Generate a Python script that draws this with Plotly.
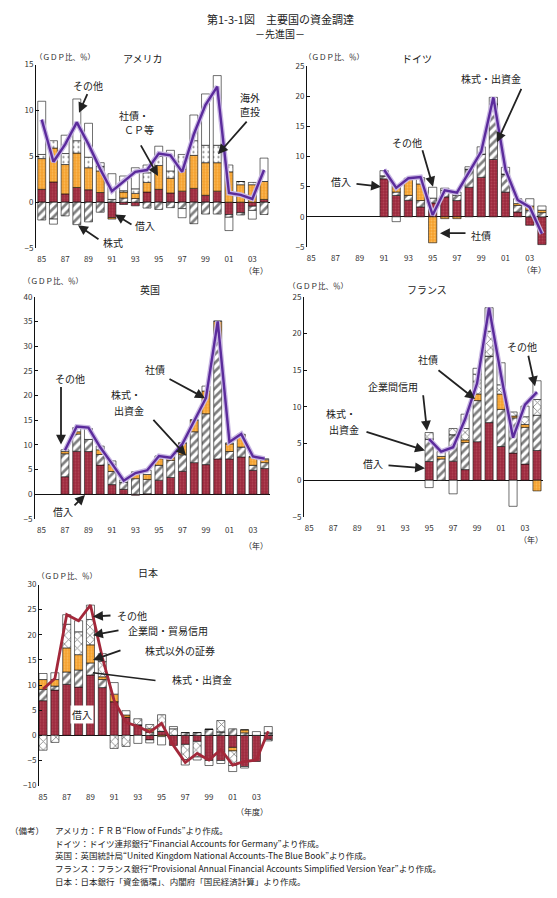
import plotly.graph_objects as go

W, H = 557, 898
FONT = "Noto Sans CJK JP"

years = list(range(1985, 2005))
N = None

'''
DATA (GDP比、%)
'''
# アメリカ
us_loans = [1.4, 2.2, 0.9, 1.6, 1.35, 1.05, -1.7, -0.25, -0.4, 1.1, 1.4, 1.0, 1.2, 1.5, 0.75, 1.2, -1.35, -1.15, -0.45, 0.3]
us_stock = [-1.95, -1.85, -1.5, -2.45, -2.15, -1.1, 0.3, 0.45, 0.4, -0.65, -0.8, -0.6, -0.7, -2.35, -1.3, -1.3, -0.3, -0.25, -0.45, -1.35]
us_bonds = [3.35, 3.7, 3.2, 3.75, 2.4, 2.35, -0.15, 0.65, 0.55, 1.05, 2.6, 1.6, 2.4, 3.6, 3.55, 3.1, 3.3, 1.9, 1.9, 1.95]
us_fdi = [0.45, 0.8, 1.2, 1.35, 1.15, 0.5, 0.0, 0.15, 0.5, 1.05, 1.0, 0.8, 1.6, 1.6, 1.9, 1.9, 0.75, 0.35, 0.25, 0.0]
us_other = [5.8, -0.55, 2.0, 4.55, 3.7, 0.4, 2.8, 1.6, 2.3, 0.85, 1.1, 2.25, -1.0, 2.8, 5.6, 7.6, -1.45, 0.0, -0.95, 2.55]
us_total = [9.0, 4.4, 6.3, 8.7, 6.3, 3.6, 1.2, 2.3, 3.3, 3.5, 5.3, 5.1, 3.3, 7.4, 10.6, 12.6, 1.0, 0.8, 0.35, 3.5]

# ドイツ
de_loans = [N] * 6 + [6.3, 3.55, 2.75, 1.65, 2.3, 3.3, 2.7, 4.9, 6.55, 9.5, 4.1, 0.8, -1.4, -4.6]
de_stock = [N] * 6 + [0.5, 0.55, 0.8, 1.05, 0.8, 1.1, 0.85, 3.0, 3.85, 9.2, 3.0, 1.1, 1.1, 0.7]
de_bonds = [N] * 6 + [0.0, 1.1, 2.75, 2.75, -4.3, -0.3, -0.3, 0.0, 0.0, 0.0, 0.0, 0.3, 0.7, 0.4]
de_other = [N] * 6 + [0.85, -0.8, 0.1, 1.05, 1.8, 0.35, 0.55, 0.4, 1.2, 1.1, 1.1, 0.8, 1.2, 0.7]
de_total = [N] * 6 + [7.8, 4.8, 6.4, 6.6, 0.3, 4.4, 4.0, 7.5, 10.8, 19.8, 7.8, 2.8, 1.6, -2.8]

# 英国
uk_loans = [N] * 2 + [3.55, 8.7, 8.65, 5.9, 1.95, 1.0, -0.2, 0.1, 2.85, 3.4, 4.65, 6.4, 6.0, 7.15, 7.15, 7.55, 4.85, 5.2]
uk_stock = [N] * 2 + [4.65, 3.5, 2.45, 2.15, 2.65, 1.4, 3.15, 2.9, 3.0, 3.45, 3.35, 6.25, 10.3, 23.55, 1.5, 2.0, 1.0, 1.2]
uk_bonds = [N] * 2 + [0.45, 0.45, 0.0, 0.95, 1.4, 0.0, 0.95, 1.0, 1.35, 0.55, 2.3, 2.35, 4.6, 4.3, 1.55, 2.5, 1.7, 0.6]
uk_other = [N] * 2 + [0.35, 0.85, 2.2, 0.75, 0.75, 0.5, 0.45, 0.85, 0.55, 0.35, 0.15, 0.1, 1.0, 0.1, 0.2, 0.1, 0.1, 0.2]
uk_total = [N] * 2 + [8.9, 13.7, 13.5, 9.5, 6.2, 2.75, 4.3, 4.85, 7.75, 7.4, 10.2, 15.0, 19.5, 35.0, 10.6, 12.2, 7.65, 7.2]

# フランス
fr_loans = [N] * 10 + [2.55, 0.0, 2.6, 1.45, 5.25, 7.85, 4.6, 3.7, 2.2, 4.05]
fr_stock = [N] * 10 + [3.05, 2.9, 3.6, 3.7, 5.6, 9.05, 5.05, 4.8, 5.0, 4.8]
fr_bonds = [N] * 10 + [0.0, 0.35, 0.0, 0.35, 0.9, 0.0, 2.1, 0.25, 0.4, -1.45]
fr_trade = [N] * 10 + [0.9, 0.0, 0.85, 1.55, 2.7, 3.4, 1.25, 0.55, 1.05, 2.15]
fr_other = [N] * 10 + [-1.0, 0.65, -1.85, 1.95, 0.8, 3.2, 3.0, -3.55, 1.45, 2.55]
fr_total = [N] * 10 + [5.6, 3.9, 4.5, 8.3, 13.2, 23.5, 14.3, 5.8, 10.3, 12.0]

# 日本（年度）
jp_loans = [6.9, 9.0, 10.15, 9.6, 12.0, 9.5, 6.7, 3.6, 2.1, -0.9, 0.8, -2.0, -1.8, -1.2, -5.0, -5.0, -2.4, -6.2, -5.2, -0.8]
jp_stock = [2.25, 0.8, 2.45, 3.4, 2.4, 1.6, 0.0, 0.0, 0.0, 0.6, 0.0, 0.0, 0.55, 0.55, 1.2, 0.7, 1.3, 0.5, 0.0, 0.5]
jp_secs = [1.95, 1.3, 4.8, 3.05, 3.6, 0.55, 1.5, 0.45, 0.0, 0.7, -0.25, 0.0, 0.0, 0.0, 0.0, 0.0, -0.7, 0.6, 0.0, 0.0]
jp_trade = [-2.95, -1.4, 4.7, 4.55, 5.05, 3.05, -2.6, -2.2, 1.2, 0.85, 3.3, 1.3, -3.0, -3.1, 0.0, 2.25, -2.9, 0.0, 0.0, -0.3]
jp_other = [1.2, 1.35, 1.9, 2.2, 2.85, 1.55, 2.3, 0.85, -1.6, -0.6, -1.65, 0.45, -1.1, -0.6, -1.0, -0.6, -1.2, -0.3, 0.75, 1.25]
jp_total = [9.2, 11.3, 24.0, 22.8, 25.9, 15.5, 6.9, 2.6, 1.75, 0.65, 2.4, -2.0, -5.4, -3.6, -4.9, -2.8, -5.9, -5.2, -4.9, 0.8]

tick_years = list(range(1985, 2004, 2))
tick_text = ["%02d" % (y % 100) for y in tick_years]

'''
STYLES
'''
RED = "#9c2a3e"
ORANGE = "#f5a12f"
PURPLE = "#5b2b9c"

styles = {
    "loans": dict(color=RED, pattern=dict(shape=".", fgcolor="#c4606c", bgcolor=RED, size=3, solidity=0.3)),
    "bonds": dict(color=ORANGE, pattern=dict(shape=".", fgcolor="#ffd58a", bgcolor=ORANGE, size=3, solidity=0.3)),
    "stock": dict(color="white", pattern=dict(shape="/", fgcolor="#000", bgcolor="white", size=6, solidity=0.45)),
    "dots": dict(color="white", pattern=dict(shape=".", fgcolor="#000", bgcolor="white", size=5, solidity=0.15)),
    "cross": dict(color="white", pattern=dict(shape="x", fgcolor="#000", bgcolor="white", size=6, solidity=0.25)),
    "other": dict(color="white"),
}

fig = go.Figure()


def add_bars(n, series, total, line_color=PURPLE, halo=True):
    for values, kind in series:
        fig.add_trace(go.Bar(x=years, y=values, width=0.68, marker=dict(line=dict(color="#111", width=0.6), **styles[kind]),
                             xaxis="x%d" % n, yaxis="y%d" % n, showlegend=False, hoverinfo="skip"))
    if halo:
        fig.add_trace(go.Scatter(x=years, y=total, mode="lines", line=dict(color="#c9b8e3", width=5),
                                 xaxis="x%d" % n, yaxis="y%d" % n, showlegend=False, hoverinfo="skip", connectgaps=False))
    fig.add_trace(go.Scatter(x=years, y=total, mode="lines", line=dict(color=line_color, width=2.4 if halo else 2.8),
                             xaxis="x%d" % n, yaxis="y%d" % n, showlegend=False, hoverinfo="skip", connectgaps=False))


add_bars(1, [(us_loans, "loans"), (us_stock, "stock"), (us_bonds, "bonds"), (us_fdi, "dots"), (us_other, "other")], us_total)
add_bars(2, [(de_loans, "loans"), (de_stock, "stock"), (de_bonds, "bonds"), (de_other, "other")], de_total)
add_bars(3, [(uk_loans, "loans"), (uk_stock, "stock"), (uk_bonds, "bonds"), (uk_other, "other")], uk_total)
add_bars(4, [(fr_loans, "loans"), (fr_stock, "stock"), (fr_bonds, "bonds"), (fr_trade, "cross"), (fr_other, "other")], fr_total)
add_bars(5, [(jp_loans, "loans"), (jp_stock, "stock"), (jp_secs, "bonds"), (jp_trade, "cross"), (jp_other, "other")],
         jp_total, line_color="#a3283a", halo=False)

# panel boxes in pixels: x0, x1, ybottom, ytop, yrange, xrange
panels = {
    1: (36, 270, 245, 59.3, [-5, 15], [1984.51, 2004.51]),
    2: (307, 548, 244, 60.7, [-5, 25], [1984.65, 2004.5]),
    3: (35, 270, 519.3, 294.3, [-5, 40], [1984.45, 2004.45]),
    4: (304, 543, 517.3, 294.3, [-5, 25], [1984.56, 2004.5]),
    5: (39, 273, 789.3, 585.7, [-10, 30], [1984.66, 2004.4]),
}

axes = {}
for n, (x0, x1, yb, yt, yr, xr) in panels.items():
    sfx = "" if n == 1 else str(n)
    axes["xaxis" + sfx] = dict(domain=[x0 / W, x1 / W], range=xr, anchor="y" + sfx, tickvals=tick_years, ticktext=tick_text,
                               showline=False, showgrid=False, zeroline=False, ticks="", ticklabelstandoff=5,
                               tickfont=dict(size=8, color="#333"))
    axes["yaxis" + sfx] = dict(domain=[1 - yb / H, 1 - yt / H], range=yr, anchor="x" + sfx, dtick=5, showline=True,
                               linecolor="#111", linewidth=1, ticks="inside", ticklen=3, tickcolor="#111",
                               zeroline=True, zerolinecolor="#111", zerolinewidth=1, showgrid=False,
                               tickfont=dict(size=8, color="#333"))

annotations = []


def note(text, x, y, size=9, anchor="center", **kw):
    annotations.append(dict(text=text, x=x / W, y=1 - y / H, xref="paper", yref="paper", showarrow=False,
                            xanchor=anchor, yanchor="middle", font=dict(size=size, color="#222", family=FONT), **kw))


def arrow(x0, y0, x1, y1):
    annotations.append(dict(text="", x=x1 / W, y=1 - y1 / H, xref="paper", yref="paper", ax=x0 - x1, ay=y0 - y1,
                            axref="pixel", ayref="pixel", showarrow=True, arrowhead=2, arrowsize=1.1,
                            arrowwidth=1.8, arrowcolor="#222"))


# titles
note("第1-3-1図　主要国の資金調達", 280, 13, size=11)
note("－先進国－", 280, 28, size=10)

# panel headings
for x, y in [(33, 51), (302, 51), (21, 278), (286, 283), (35, 577)]:
    note("（ＧＤＰ比、％）", x, y, size=7.5, anchor="left")
note("アメリカ", 143, 53, size=10)
note("ドイツ", 417, 53, size=10)
note("英国", 150, 287, size=10)
note("フランス", 427, 287, size=10)
note("日本", 148, 574, size=10)
note("（年）", 256, 268, size=8)
note("（年）", 534, 267, size=8)
note("（年）", 256, 546, size=8)
note("（年）", 531, 540, size=8)
note("（年度）", 252, 815, size=8)

# アメリカ labels
note("その他", 88, 80, size=10)
arrow(88, 88, 79, 108)
note("社債・", 134, 111, size=10)
note("ＣＰ等", 139, 125, size=10)
arrow(140, 140, 158, 172)
note("海外", 250, 93, size=10)
note("直投", 250, 107, size=10)
arrow(248, 116, 218, 150)
note("借入", 145, 222, size=10)
arrow(133, 222, 115, 211)
note("株式", 113, 239, size=10)
arrow(100, 237, 78, 222)

# ドイツ labels
note("株式・出資金", 491, 73, size=10)
arrow(522, 83, 497, 138)
note("その他", 407, 138, size=10)
arrow(422, 145, 433, 183)
note("借入", 341, 178, size=10)
arrow(355, 180, 381, 183)
note("社債", 481, 232, size=10)
arrow(467, 230, 440, 230)

# 英国 labels
note("その他", 70, 377, size=10)
arrow(61, 385, 61, 444)
note("社債", 155, 368, size=10)
arrow(168, 377, 205, 397)
note("株式・", 126, 393, size=10)
note("出資金", 129, 410, size=10)
arrow(152, 418, 186, 455)
note("借入", 63, 512, size=10)
arrow(73, 507, 85, 495)

# フランス labels
note("その他", 522, 345, size=10)
arrow(528, 353, 535, 385)
note("社債", 428, 358, size=10)
arrow(437, 368, 475, 398)
note("企業間信用", 393, 385, size=10)
arrow(423, 393, 427, 430)
note("株式・", 341, 413, size=10)
note("出資金", 344, 429, size=10)
arrow(365, 431, 425, 450)
note("借入", 373, 463, size=10)
arrow(387, 465, 425, 468)

# 日本 labels
note("その他", 132, 617, size=10)
arrow(112, 617, 93, 618)
note("企業間・貿易信用", 168, 632, size=10)
arrow(120, 632, 93, 637)
note("株式以外の証券", 180, 652, size=10)
arrow(122, 652, 93, 662)
note("株式・出資金", 202, 682, size=10)
annotations.append(dict(text="", x=93 / W, y=1 - 675 / H, xref="paper", yref="paper", ax=157 - 93, ay=683 - 675,
                        axref="pixel", ayref="pixel", showarrow=True, arrowhead=0, arrowwidth=1.5, arrowcolor="#222"))
note("借入", 82, 717, size=10, bgcolor="white", borderpad=1)

# 備考
notes = [
    "アメリカ：ＦＲＢ“Flow of Funds”より作成。",
    "ドイツ：ドイツ連邦銀行“Financial Accounts for Germany”より作成。",
    "英国：英国統計局“United Kingdom National Accounts-The Blue Book”より作成。",
    "フランス：フランス銀行“Provisional Annual Financial Accounts Simplified Version Year”より作成。",
    "日本：日本銀行「資金循環」、内閣府「国民経済計算」より作成。",
]
note("（備考）", 8, 834, size=8.5, anchor="left")
for i, t in enumerate(notes):
    note(t, 53, 834 + i * 13, size=8.5, anchor="left")

fig.update_layout(width=W, height=H, margin=dict(l=0, r=0, t=0, b=0), barmode="relative",
                  paper_bgcolor="white", plot_bgcolor="white", font=dict(family=FONT, size=8, color="#333"),
                  annotations=annotations, **axes)

# page body has a default margin; drop it so the figure fills the window
fig.write_html("out.html", config={"displayModeBar": False},
               post_script="document.body.style.margin='0';document.body.style.overflow='hidden';")
